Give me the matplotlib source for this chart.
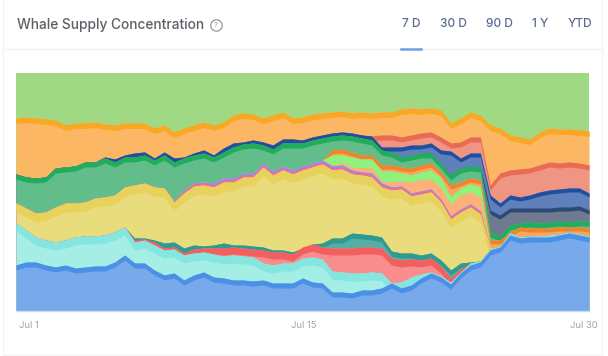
import numpy as np
import matplotlib
matplotlib.use("Agg")
import matplotlib.pyplot as plt
from matplotlib.lines import Line2D

plt.rcParams['font.family'] = ['Inter', 'DejaVu Sans']

# cumulative top of each stacked layer (arbitrary units, axis has no scale)
blue = [46,49,49,46,44,46,43,44,45,45,49,56,48,48,41,36,38,31,36,
        39,34,33,31,31,30,31,28,28,28,33,29,28,19,19,18,21,21,23,28,
        23,26,33,38,34,27,38,46,49,61,64,76,73,74,74,74,76,78,76,74]
cyan = [88,81,74,71,69,71,74,75,75,76,79,84,69,71,66,61,62,56,58,
        59,57,55,56,55,54,48,46,48,48,53,54,52,40,39,38,38,39,38,28,
        29,34,37,39,35,29,39,48,50,62,65,78,74,75,75,76,77,79,77,75]
red = [88,81,74,71,69,71,74,75,75,76,79,84,71,72,69,63,64,58,62,
       63,63,63,64,63,62,61,59,59,57,64,67,64,63,63,63,64,64,63,53,
       51,52,51,53,45,33,42,48,50,62,65,78,74,75,75,76,77,79,77,75]
teal = [88,81,74,71,69,71,74,75,75,76,79,84,73,73,71,68,69,63,66,
        65,66,68,66,66,65,64,61,61,59,63,67,68,73,73,78,77,76,74,60,
        58,58,56,58,51,41,48,49,50,62,65,78,74,75,75,76,77,79,77,75]
yellow = [108,103,98,99,104,108,108,109,113,114,116,124,126,128,124,123,109,118,125,
          126,124,129,129,134,134,144,136,141,137,141,144,147,141,142,137,136,134,124,121,
          122,115,117,119,109,92,99,104,97,63,65,78,74,75,75,76,77,79,77,75]
pink = [108,103,98,99,104,108,108,109,113,114,116,124,126,128,124,123,110,120,127,
        128,126,131,131,136,136,146,138,143,139,143,146,149,143,144,139,138,136,126,123,
        124,117,119,121,111,94,101,106,99,63,65,78,74,75,75,76,77,79,77,75]
purple = [108,103,98,99,104,108,108,109,113,114,116,124,126,128,124,123,110,121,128,
          129,128,133,133,138,138,148,140,145,141,145,148,151,145,146,141,139,138,128,124,
          125,118,120,122,112,95,102,107,100,63,65,78,74,75,75,76,77,79,77,75]
peach = [108,103,98,99,104,108,108,109,113,114,116,124,126,128,124,123,110,121,128,
         129,128,133,133,138,138,148,140,145,141,145,148,151,146,148,144,143,143,130,129,
         130,129,131,132,123,107,116,119,114,63,65,78,74,75,75,76,77,79,77,75]
lime = [108,103,98,99,104,108,108,109,113,114,116,124,126,128,124,123,110,121,128,
        129,128,133,133,138,138,148,140,145,141,145,148,151,156,156,154,152,152,140,140,
        138,136,139,141,133,114,123,127,124,63,65,78,74,75,75,76,77,79,77,75]
orange = [108,103,98,99,104,108,108,109,113,114,116,124,126,128,124,123,110,121,128,
          129,128,133,133,138,138,148,140,145,141,145,148,151,161,162,159,156,156,146,146,
          144,143,146,148,139,126,129,133,131,71,71,79,84,83,83,83,84,84,84,83]
green = [137,134,133,134,143,144,145,149,149,153,149,154,154,156,151,156,149,153,156,
         158,154,159,164,167,168,166,162,168,168,168,171,173,175,176,175,173,171,161,159,
         154,156,158,158,148,136,143,145,144,79,75,86,88,89,88,89,90,89,90,90]
slate = [137,134,133,134,143,144,145,149,149,153,149,154,154,156,151,156,149,153,156,
         158,154,159,164,167,168,166,162,168,168,168,171,173,175,176,175,173,171,161,159,
         154,156,158,158,148,136,143,145,144,101,96,103,103,103,103,103,104,104,105,101]
navy = [137,134,133,134,143,144,145,149,149,154,152,156,158,159,153,159,153,154,158,
        161,156,163,168,169,171,169,166,172,172,171,174,176,178,179,178,176,175,164,164,
        164,166,166,168,161,160,153,158,158,116,108,116,114,116,119,121,122,123,123,118]
salmon = [137,134,133,134,143,144,145,149,149,154,152,156,158,159,153,159,153,154,158,
          161,156,163,168,169,171,169,166,172,172,171,174,176,178,179,178,176,175,176,176,
          174,176,178,179,174,168,169,174,174,126,138,141,142,143,146,149,148,149,148,146]
amber = [193,194,193,192,191,186,188,188,189,187,186,188,188,188,183,186,179,183,186,
         189,186,189,196,198,197,193,196,199,193,194,197,198,199,200,198,199,198,199,199,
         202,203,202,203,201,188,193,199,196,186,183,176,174,172,179,183,182,182,181,180]
total = [238] * len(blue)

tick_labels = ['Jul 1', 'Jul 15', 'Jul 30']
tick_days = [0.63, 14.57, 28.74]
range_tabs = ['7 D', '30 D', '90 D', '1 Y', 'YTD']

# top-down painting: (values, fill colour, line colour, line band height)
layers = [
    (total, '#a0d883', '#a0d883', 0),
    (amber, '#fbb764', '#f9a825', 5.5),
    (salmon, '#ee9583', '#e96b55', 5),
    (navy, '#5f80ba', '#214f9f', 4),
    (slate, '#6e7a90', '#2c4a75', 4),
    (green, '#63bd8b', '#22ad5c', 5),
    (orange, '#fba65f', '#f0842a', 4),
    (lime, '#8ef27c', '#8ef27c', 3),
    (peach, '#fdb07a', '#fdb07a', 3),
    (purple, '#8f8ee8', '#8f8ee8', 2),
    (pink, '#ee6e96', '#ee6e96', 2),
    (yellow, '#e9dc7c', '#e8d25e', 9),
    (teal, '#55aea6', '#2f9a90', 5),
    (red, '#f98c8c', '#f25f5f', 7),
    (cyan, '#a5eee5', '#85e6df', 8),
    (blue, '#78a9ea', '#4a90e6', 5),
]

W, H = 608, 356
fig = plt.figure(figsize=(W / 100, H / 100), dpi=100, facecolor='white')
ax = fig.add_axes([16 / W, (H - 311) / H, 573 / W, 238 / H])

days = np.arange(len(blue)) * 0.5
for vals, fill, line, band in layers:
    v = np.array(vals, dtype=float)
    ax.fill_between(days, 0, v, color=fill, lw=0)
    if band:
        ax.fill_between(days, v - band, v, color=line, lw=0)

ax.set_xlim(days[0], days[-1])
ax.set_ylim(0, 238)
ax.set_yticks([])
ax.set_xticks(tick_days, tick_labels)
ax.tick_params(axis='x', length=0, pad=7.5, labelsize=6.8, labelcolor='#a3a3a3')
for s in ax.spines.values():
    s.set_visible(False)
ax.spines['bottom'].set_visible(True)
ax.spines['bottom'].set_color('#c9dcf5')
ax.spines['bottom'].set_linewidth(1)

def px(x, y):
    return x / W, 1 - y / H

fig.text(*px(17, 25), 'Whale Supply Concentration', fontsize=9.9, color='#5c5f66',
         va='center', ha='left', fontweight='medium')
fig.add_artist(Line2D([216 / W], [1 - 25 / H], marker='o', ms=8.2, mfc='none', mec='#8a8a8a',
                      mew=0.8, ls='none'))
fig.text(*px(216, 25), '?', fontsize=5.5, color='#8a8a8a', va='center', ha='center')

tab_x = [411.5, 453.5, 499, 540.5, 580]
for t, x in zip(range_tabs, tab_x):
    fig.text(*px(x, 24), t, fontsize=8.6, color='#5a6b90', va='center', ha='center',
             fontweight='medium')

fig.add_artist(Line2D([6 / W, 602 / W], [1 - 48.5 / H] * 2, color='#f2f2f2', lw=1))
fig.add_artist(Line2D([401 / W, 421 / W], [1 - 49 / H] * 2, color='#6f9fe8', lw=1.8))
fig.add_artist(Line2D([3 / W, 3 / W], [1, 1 - 355 / H], color='#f4f4f4', lw=1))
fig.add_artist(Line2D([602 / W, 602 / W], [1, 1 - 355 / H], color='#f4f4f4', lw=1))
fig.add_artist(Line2D([3 / W, 602 / W], [1 - 355 / H] * 2, color='#f4f4f4', lw=1))

fig.savefig('out.png', dpi=100)
